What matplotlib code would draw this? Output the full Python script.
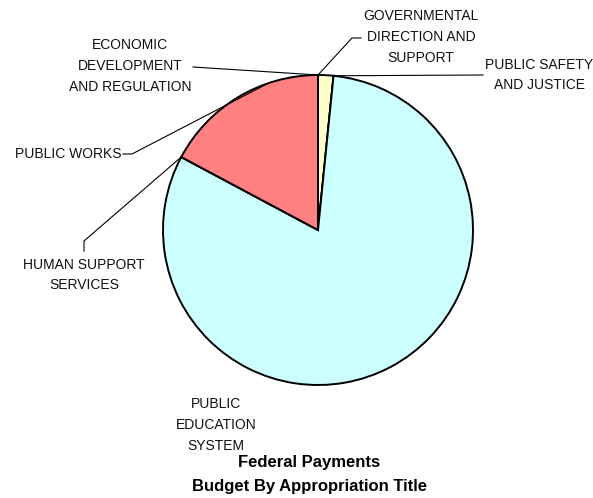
import numpy as np
import matplotlib
matplotlib.use("Agg")
import matplotlib.pyplot as plt

plt.rcParams['font.family'] = ['Liberation Sans', 'DejaVu Sans']

# share of federal payments by appropriation title, clockwise from 12 o'clock
titles = ['GOVERNMENTAL\nDIRECTION AND\nSUPPORT',
          'PUBLIC SAFETY\nAND JUSTICE',
          'PUBLIC\nEDUCATION\nSYSTEM',
          'HUMAN SUPPORT\nSERVICES',
          'PUBLIC WORKS',
          'ECONOMIC\nDEVELOPMENT\nAND REGULATION']
shares = [1.6, 0.0, 81.2, 0.0, 17.2, 0.0]
colors = ['#FFFFCC', '#FFFFCC', '#CCFFFF', '#CCFFFF', '#FF8080', '#FF8080']

W, H = 593, 498
fig = plt.figure(figsize=(W / 100, H / 100), dpi=100)
ax = fig.add_axes([0, 0, 1, 1])

cx, cy, R = 318, H - 230, 155
wedges, _ = ax.pie(shares, colors=colors, startangle=90, counterclock=False,
                   center=(cx, cy), radius=R, normalize=True,
                   wedgeprops=dict(edgecolor='black', linewidth=1.4))
ax.set_xlim(0, W)
ax.set_ylim(0, H)
ax.set_aspect('equal')
ax.axis('off')


def px(x, y):
    # pixel position measured from the top-left corner
    return x, H - y


def anchor(w, frac=0.5):
    t = np.radians(w.theta1 + frac * (w.theta2 - w.theta1))
    return cx + R * np.cos(t), cy + R * np.sin(t)


# label text position (centre), leader elbow points and where the leader
# meets the rim (fraction across the wedge), top-left pixel coords
layout = [
    dict(text=(421, 37), path=[(361, 38), (352, 38)], frac=1.0),
    dict(text=(539, 75), path=[(483, 75)], frac=0.5),
    dict(text=(216, 425), path=None, frac=0.5),
    dict(text=(84, 275), path=[(84, 251), (84, 241)], frac=0.5),
    dict(text=(68, 154), path=[(123, 154), (132, 154)], frac=0.3),
    dict(text=(130, 66), path=[(193, 67)], frac=0.5),
]

for w, title, lay in zip(wedges, titles, layout):
    tx, ty = px(*lay['text'])
    ax.text(tx, ty, title, ha='center', va='center', fontsize=10,
            linespacing=1.62, color='#111111')
    if lay['path']:
        pts = [px(*p) for p in lay['path']] + [anchor(w, lay['frac'])]
        xs, ys = zip(*pts)
        ax.plot(xs, ys, color='black', linewidth=0.8)

fig.text(309 / W, 1 - 462 / H, 'Federal Payments',
         ha='center', va='center', fontsize=12, fontweight='bold')
fig.text(309 / W, 1 - 486 / H, 'Budget By Appropriation Title',
         ha='center', va='center', fontsize=12, fontweight='bold')

fig.savefig('out.png', dpi=100)
